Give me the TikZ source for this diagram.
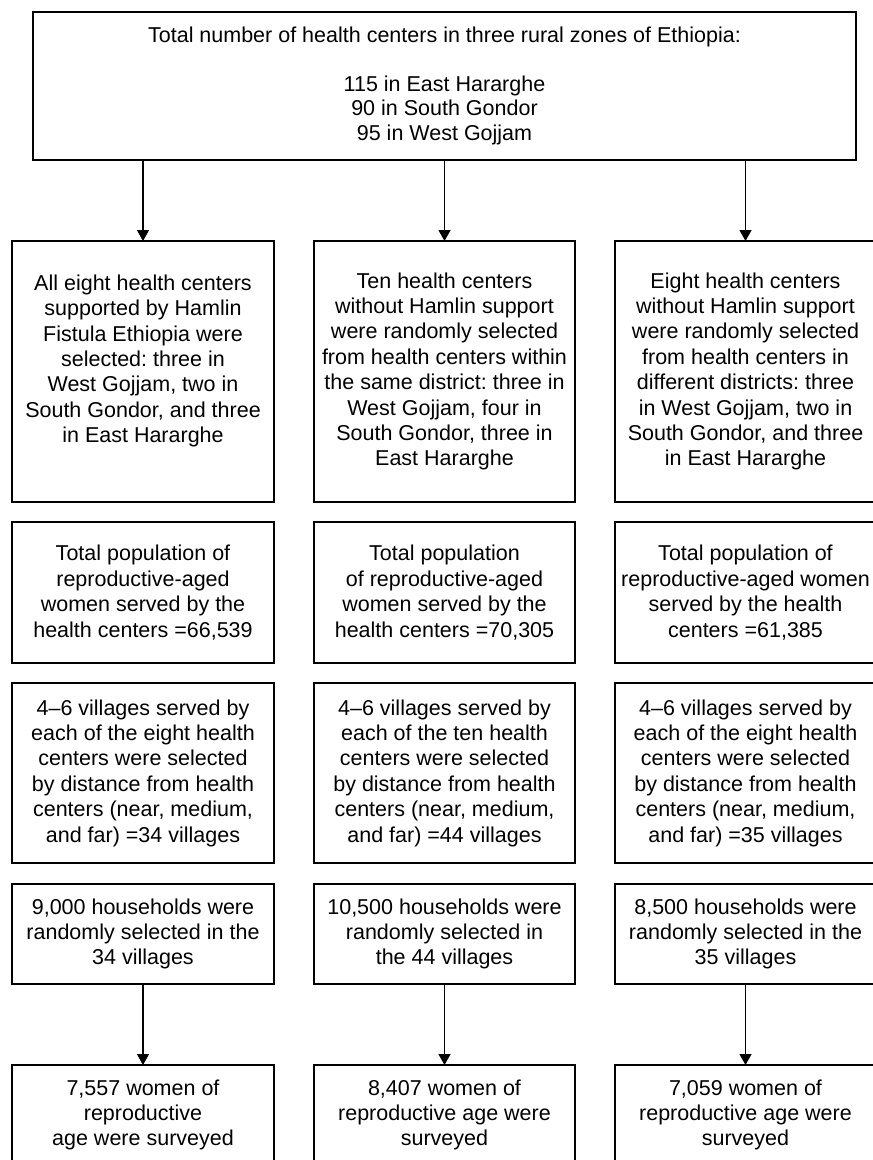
\documentclass[tikz,border=0pt]{standalone}
\usepackage{fontspec}
\setmainfont{Liberation Sans}
\usetikzlibrary{arrows.meta,calc}
\frenchspacing
\begin{document}
\begin{tikzpicture}[x=1pt,y=-1pt,
  box/.style={draw=black,line width=1.3pt,inner sep=0pt,outer sep=0pt,align=center,
    font=\fontsize{21.5}{25.4}\selectfont\frenchspacing},
  colA/.style={box,minimum width=262pt},
  colB/.style={box,minimum width=261pt},
  arr/.style={line width=1.3pt,-{Triangle[length=11pt,width=12pt]}}]
\useasboundingbox (0,0) rectangle (873,1160);
% top
\node[box,minimum width=823pt,minimum height=148pt,
  font=\fontsize{21.5}{24.4}\selectfont\frenchspacing] (top) at (444.5,86)
 {Total number of health centers in three rural zones of Ethiopia:\\ \mbox{}\\
  115 in East Hararghe\\ 90 in South Gondor\\ 95 in West Gojjam};
% row 2
\node[colA,minimum height=261pt] (a2) at (143,371.5)
 {All eight health centers\\ supported by Hamlin\\ Fistula Ethiopia were\\ selected: three in\\
  West Gojjam, two in\\ South Gondor, and three\\ in East Hararghe\\ \mbox{}};
\node[colB,minimum height=261pt] (b2) at (444.5,371.5)
 {Ten health centers\\ without Hamlin support\\ were randomly selected\\ from health centers within\\
  the same district: three in\\ West Gojjam, four in\\ South Gondor, three in\\ East Hararghe};
\node[colB,minimum height=261pt] (c2) at (745.5,371.5)
 {Eight health centers\\ without Hamlin support\\ were randomly selected\\ from health centers in\\
  different districts: three\\ in West Gojjam, two in\\ South Gondor, and three\\ in East Hararghe};
% row 3
\node[colA,minimum height=141pt] (a3) at (143,592.5)
 {Total population of\\ reproductive-aged\\ women served by the\\ health centers =66,539};
\node[colB,minimum height=141pt] (b3) at (444.5,592.5)
 {Total population\\ of reproductive-aged\\ women served by the\\ health centers =70,305};
\node[colB,minimum height=141pt] (c3) at (745.5,592.5)
 {Total population of\\ reproductive-aged women\\ served by the health\\ centers =61,385};
% row 4
\node[colA,minimum height=180pt] (a4) at (143,773)
 {4--6 villages served by\\ each of the eight health\\ centers were selected\\ by distance from health\\
  centers (near, medium,\\ and far) =34 villages};
\node[colB,minimum height=180pt] (b4) at (444.5,773)
 {4--6 villages served by\\ each of the ten health\\ centers were selected\\ by distance from health\\
  centers (near, medium,\\ and far) =44 villages};
\node[colB,minimum height=180pt] (c4) at (745.5,773)
 {4--6 villages served by\\ each of the eight health\\ centers were selected\\ by distance from health\\
  centers (near, medium,\\ and far) =35 villages};
% row 5
\node[colA,minimum height=100pt] (a5) at (143,934)
 {9,000 households were\\ randomly selected in the\\ 34 villages};
\node[colB,minimum height=100pt] (b5) at (444.5,934)
 {10,500 households were\\ randomly selected in\\ the 44 villages};
\node[colB,minimum height=100pt] (c5) at (745.5,934)
 {8,500 households were\\ randomly selected in the\\ 35 villages};
% row 6
\node[colA,minimum height=100pt] (a6) at (143,1115)
 {7,557 women of\\ reproductive\\ age were surveyed};
\node[colB,minimum height=100pt] (b6) at (444.5,1115)
 {8,407 women of\\ reproductive age were\\ surveyed};
\node[colB,minimum height=100pt] (c6) at (745.5,1115)
 {7,059 women of\\ reproductive age were\\ surveyed};
% arrows
\draw[arr] (top.south -| a2.north) -- (a2.north);
\draw[arr] (top.south -| b2.north) -- (b2.north);
\draw[arr] (top.south -| c2.north) -- (c2.north);
\draw[arr] (a5.south) -- (a6.north);
\draw[arr] (b5.south) -- (b6.north);
\draw[arr] (c5.south) -- (c6.north);
\end{tikzpicture}
\end{document}
